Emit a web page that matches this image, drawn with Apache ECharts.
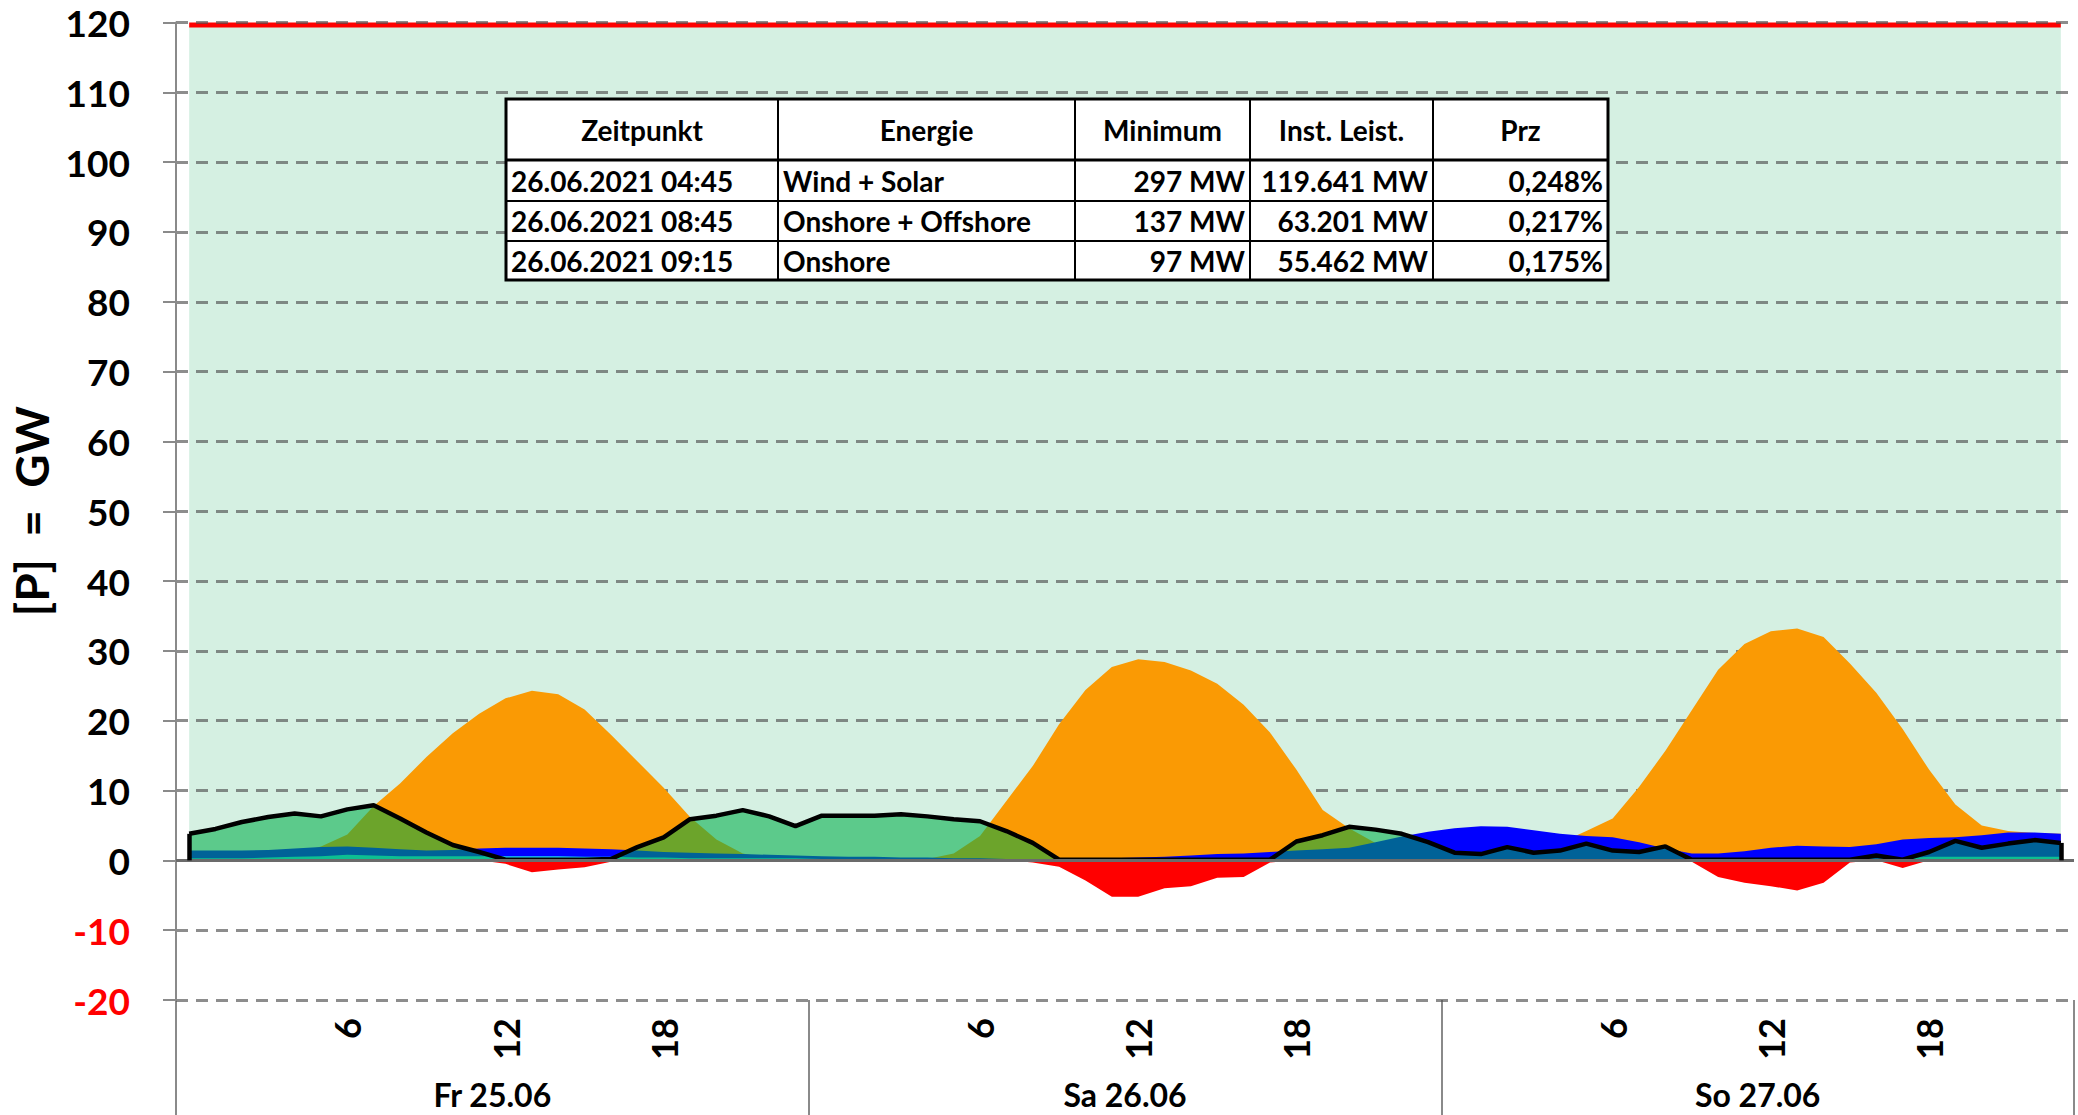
<!DOCTYPE html>
<html>
<head>
<meta charset="utf-8">
<script src="https://cdn.jsdelivr.net/npm/echarts@6/dist/echarts.min.js"></script>
<style>
html, body { margin: 0; padding: 0; background: #fff; }
#chart { width: 2078px; height: 1115px; }
</style>
</head>
<body>
<div id="chart"></div>
<script>
// hourly values in GW, 25.06 - 27.06.2021
const days = ['Fr 25.06', 'Sa 26.06', 'So 27.06'];
const hourTicks = [6, 12, 18];
const installed = 119.641;

const solar = [
  0, 0, 0, 0, 1.0, 2.0, 3.7, 7.8, 11.0, 14.8, 18.2, 21.0, 23.2, 24.3, 23.8, 21.6, 18.0, 14.2, 10.4, 6.2, 3.0, 1.0, 0.2, 0,
  0, 0, 0, 0, 0.2, 1.0, 3.5, 8.5, 13.5, 19.5, 24.4, 27.7, 28.8, 28.4, 27.2, 25.3, 22.3, 18.3, 13.0, 7.2, 4.6, 2.5, 0.8, 0,
  0, 0, 0.3, 1.0, 2.5, 4.2, 6.0, 10.5, 15.7, 21.5, 27.3, 31.0, 32.8, 33.2, 32.0, 28.2, 24.0, 18.8, 13.0, 8.0, 5.0, 4.2, 3.9, 3.8
];
const offshore = [
  1.4, 1.4, 1.4, 1.5, 1.7, 1.9, 2.0, 1.8, 1.6, 1.4, 1.5, 1.7, 1.8, 1.8, 1.8, 1.7, 1.6, 1.4, 1.2, 1.1, 1.0, 0.9, 0.8, 0.7,
  0.6, 0.5, 0.5, 0.4, 0.4, 0.3, 0.3, 0.2, 0.2, 0.2, 0.2, 0.3, 0.4, 0.5, 0.7, 0.9, 1.0, 1.2, 1.4, 1.6, 1.8, 2.6, 3.4, 4.1,
  4.6, 4.9, 4.8, 4.3, 3.8, 3.5, 3.3, 2.6, 1.7, 1.0, 1.0, 1.3, 1.8, 2.1, 2.0, 1.9, 2.3, 3.0, 3.2, 3.3, 3.6, 4.0, 4.0, 3.8
];
const other = [
  0.3, 0.3, 0.3, 0.4, 0.5, 0.6, 0.8, 0.7, 0.6, 0.6, 0.6, 0.6, 0.6, 0.6, 0.6, 0.5, 0.5, 0.4, 0.4, 0.3, 0.3, 0.3, 0.3, 0.3,
  0.2, 0.2, 0.2, 0.1, 0.1, 0.1, 0.1, 0.1, 0.1, 0.1, 0.1, 0.1, 0.1, 0.1, 0.1, 0.1, 0.1, 0.1, 0.1, 0.1, 0.1, 0.1, 0.1, 0.1,
  0.1, 0.1, 0.1, 0.1, 0.1, 0.1, 0.1, 0.1, 0.1, 0.1, 0.1, 0.1, 0.1, 0.1, 0.1, 0.1, 0.2, 0.3, 0.5, 0.5, 0.5, 0.5, 0.5, 0.5
];
const onshore = [
  3.8, 4.5, 5.5, 6.2, 6.7, 6.3, 7.3, 7.9, 6.0, 4.0, 2.2, 1.2, 0.1, 0.1, 0.1, 0.1, 0.2, 1.9, 3.3, 5.9, 6.4, 7.2, 6.3, 4.9,
  6.4, 6.4, 6.4, 6.6, 6.3, 5.9, 5.6, 4.2, 2.5, 0.1, 0.1, 0.1, 0.1, 0.1, 0.1, 0.1, 0.1, 0.1, 2.7, 3.6, 4.8, 4.4, 3.8, 2.6,
  1.1, 0.9, 1.9, 1.1, 1.4, 2.4, 1.4, 1.2, 2.0, 0.1, 0.1, 0.1, 0.1, 0.1, 0.1, 0.1, 0.7, 0.1, 1.2, 2.8, 1.8, 2.4, 2.9, 2.5
];
const balance = [
  0, 0, 0, 0, 0, 0, 0, 0, 0, 0, 0, 0, -0.5, -1.7, -1.3, -1.0, -0.2, 0, 0, 0, 0, 0, 0, 0,
  0, 0, 0, 0, 0, 0, 0, 0, -0.3, -0.9, -2.9, -5.2, -5.2, -4.0, -3.7, -2.5, -2.4, -0.3, 0, 0, 0, 0, 0, 0,
  0, 0, 0, 0, 0, 0, 0, 0, 0, -0.2, -2.4, -3.2, -3.7, -4.3, -3.2, -0.3, 0, -1.1, 0, 0, 0, 0, 0, 0
];

const tableHead = ['Zeitpunkt', 'Energie', 'Minimum', 'Inst. Leist.', 'Prz'];
const tableRows = [
  ['26.06.2021 04:45', 'Wind + Solar', '297 MW', '119.641 MW', '0,248%'],
  ['26.06.2021 08:45', 'Onshore + Offshore', '137 MW', '63.201 MW', '0,217%'],
  ['26.06.2021 09:15', 'Onshore', '97 MW', '55.462 MW', '0,175%']
];

const hours = [];
days.forEach(d => { for (let h = 0; h < 24; h++) hours.push(d + ' ' + h); });
const installedLine = hours.map(() => installed);

const font = 'Lato';
const gridColor = '#8a8a8a';

// table overlay
const colX = [506, 778, 1075, 1250, 1433, 1608];
const rowY = [99, 160, 201, 241, 280];
const cellAlign = ['left', 'left', 'right', 'right', 'right'];
const tableEls = [{
  type: 'rect', z: 100,
  shape: { x: colX[0], y: rowY[0], width: colX[5] - colX[0], height: rowY[4] - rowY[0] },
  style: { fill: '#fff', stroke: '#000', lineWidth: 3 }
}];
colX.slice(1, -1).forEach(x => tableEls.push({
  type: 'line', z: 101, shape: { x1: x, y1: rowY[0], x2: x, y2: rowY[4] }, style: { stroke: '#000', lineWidth: 2 }
}));
rowY.slice(1, -1).forEach((y, k) => tableEls.push({
  type: 'line', z: 101, shape: { x1: colX[0], y1: y, x2: colX[5], y2: y }, style: { stroke: '#000', lineWidth: k === 0 ? 3 : 2 }
}));
const cellFont = { fontSize: 28, fontWeight: 'bold', fontFamily: font, fill: '#000' };
tableHead.forEach((t, c) => tableEls.push({
  type: 'text', z: 102, x: (colX[c] + colX[c + 1]) / 2, y: (rowY[0] + rowY[1]) / 2,
  style: Object.assign({ text: t, align: 'center', verticalAlign: 'middle' }, cellFont)
}));
tableRows.forEach((row, r) => row.forEach((t, c) => tableEls.push({
  type: 'text', z: 102,
  x: cellAlign[c] === 'left' ? colX[c] + 5 : colX[c + 1] - 5,
  y: (rowY[r + 1] + rowY[r + 2]) / 2,
  style: Object.assign({ text: t, align: cellAlign[c], verticalAlign: 'middle' }, cellFont)
})));

const area = (name, data, color) => ({
  name, type: 'line', data, symbol: 'none', silent: true, z: 2,
  lineStyle: { width: 0 },
  areaStyle: { color, opacity: 1 }
});

const chart = echarts.init(document.getElementById('chart'), null, { renderer: 'svg', width: 2078, height: 1115 });

chart.setOption({
  animation: false,
  grid: { left: 176, right: 4, top: 22.5, bottom: 115, containLabel: false, outerBoundsMode: 'none' },
  xAxis: [{
    type: 'category',
    data: hours,
    boundaryGap: true,
    position: 'bottom',
    axisLine: { show: false },
    axisTick: { show: false },
    splitLine: { show: false },
    axisLabel: {
      interval: i => hourTicks.includes(i % 24),
      formatter: (v, i) => String(i % 24),
      rotate: 90, margin: 18,
      fontSize: 36, fontWeight: 'bold', fontFamily: font, color: '#000'
    }
  }, {
    type: 'category',
    data: days,
    boundaryGap: true,
    position: 'bottom',
    axisLine: { show: false },
    axisTick: { show: true, interval: 0, length: 115, lineStyle: { color: gridColor, width: 2 } },
    splitLine: { show: false },
    axisLabel: { margin: 78, fontSize: 32, fontWeight: 'bold', fontFamily: font, color: '#000' }
  }],
  yAxis: {
    type: 'value',
    min: -20, max: 120, interval: 10,
    z: 1.5,
    name: '[P]  =  GW',
    nameLocation: 'middle',
    nameGap: 113,
    nameTextStyle: { fontSize: 46, fontWeight: 'bold', fontFamily: font, color: '#000' },
    axisLine: { show: true, lineStyle: { color: gridColor, width: 2 } },
    axisTick: { show: true, length: 13, lineStyle: { color: gridColor, width: 2 } },
    axisLabel: {
      margin: 46, fontSize: 37, fontWeight: 'bold', fontFamily: font,
      color: v => (v < 0 ? '#ff0000' : '#000')
    },
    splitLine: { lineStyle: { color: 'rgba(80,80,80,0.65)', width: 3, type: [12, 8] } }
  },
  graphic: tableEls,
  series: [
    {
      name: 'Inst. Leistung', type: 'line', data: installedLine, symbol: 'none', silent: true, z: 1,
      lineStyle: { color: '#ff0000', width: 5 },
      areaStyle: { color: '#d5f0e2', opacity: 1 }
    },
    area('Solar', solar, '#fa9a04'),
    area('Offshore', offshore, '#0000ff'),
    area('Sonstige', other, '#1fd7f2'),
    Object.assign(area('Saldo', balance, '#ff0000'), {
      markLine: {
        silent: true, symbol: 'none', label: { show: false },
        lineStyle: { color: '#6b6b6b', width: 3, type: 'solid' },
        data: [{ yAxis: 0 }]
      }
    }),
    {
      name: 'Onshore', type: 'line', data: onshore, symbol: 'none', silent: true, z: 2,
      lineStyle: { color: '#000', width: 4.5 },
      areaStyle: { color: 'rgba(0,172,74,0.57)', opacity: 1 },
      markLine: {
        silent: true, symbol: 'none', label: { show: false },
        lineStyle: { color: '#000', width: 4.5, type: 'solid' },
        data: [
          [{ coord: [0, 0] }, { coord: [0, onshore[0]] }],
          [{ coord: [hours.length - 1, 0] }, { coord: [hours.length - 1, onshore[hours.length - 1]] }]
        ]
      }
    }
  ]
});
</script>
</body>
</html>
